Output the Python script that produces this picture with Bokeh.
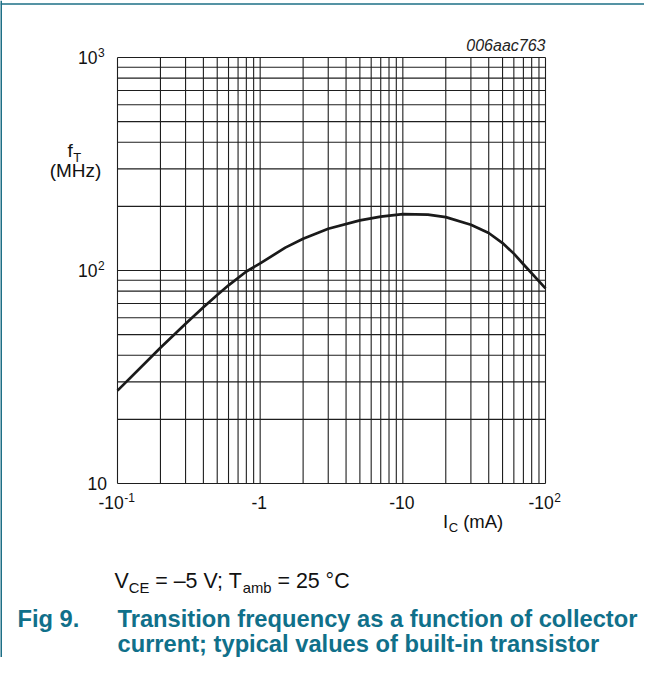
from bokeh.plotting import figure
from bokeh.models import Label, Range1d, Span
from bokeh.embed import file_html
from bokeh.resources import INLINE

# ---- data ----
ic_ma = [0.1, 0.2, 0.3, 0.4, 0.5, 0.6, 0.8, 1, 1.5, 2, 3, 5, 7, 10, 15, 20, 30, 40, 50, 60, 70, 100]
ft_mhz = [27.3, 43.4, 56.2, 67.2, 76.8, 85.2, 98.9, 108, 128, 141, 157, 172, 179, 184, 183, 178,
          164, 150, 134.5, 120, 107, 82.5]

x_major = [0.1, 1, 10, 100]
x_minor = [m * d for d in (0.1, 1, 10) for m in range(2, 10)]
y_major = [10, 100, 1000]
y_minor = [m * d for d in (10, 100) for m in range(2, 10)]

x_tick_base = ["-10", "-1", "-10", "-10"]
x_tick_sup = ["-1", "", "", "2"]
y_tick_base = ["10", "10", "10"]
y_tick_sup = ["", "2", "3"]

TEAL = "#10708a"
FRAME_TEAL = "#1d6f86"
FONT = "Liberation Sans"
NB = "\u00a0"

# Arial / Liberation Sans advance widths (1/1000 em)
WID = {" ": 278, NB: 278, "-": 333, "(": 333, ")": 333, "M": 833, "H": 722, "z": 500, "m": 833,
       "A": 667, "I": 278, "C": 722, "E": 667, "V": 667, "=": 584, "\u2013": 556, ";": 278,
       "T": 611, "a": 556, "b": 556, "\u00b0": 400, "f": 278}


def tw(s, size):
    return sum(WID.get(ch, 556) for ch in s) / 1000.0 * size


# canvas geometry
CW, CH = 644, 657
PL, PT, PW, PH = 117, 57, 428, 426   # chart box inside the canvas
dec_x = PW / 3.0
dec_y = PH / 2.0
x_rng = Range1d(10 ** (-1 - PL / dec_x), 10 ** (2 + (CW - PL - PW) / dec_x))
y_rng = Range1d(10 ** (1 - (CH - PT - PH) / dec_y), 10 ** (3 + PT / dec_y))

p = figure(width=CW, height=CH, x_axis_type="log", y_axis_type="log",
           x_range=x_rng, y_range=y_rng,
           x_axis_location=None, y_axis_location=None,
           output_backend="svg", toolbar_location=None,
           min_border=0, min_border_left=0, min_border_right=0,
           min_border_top=0, min_border_bottom=0)
p.grid.visible = False
p.background_fill_color = "white"
p.border_fill_color = "white"
p.outline_line_color = None

# page frame lines (teal)
p.add_layout(Span(location=x_rng.start, dimension="height", line_color=FRAME_TEAL, line_width=3))
p.add_layout(Span(location=10 ** (3 + (PT - 3.5) / dec_y), dimension="width",
                  line_color=FRAME_TEAL, line_width=1.5))

GRID = "#1e1e1e"
xs = x_major + x_minor
ys = y_major + y_minor
p.segment(x0=xs, y0=[y_major[0]] * len(xs), x1=xs, y1=[y_major[-1]] * len(xs),
          line_color=GRID, line_width=1.1)
p.segment(x0=[x_major[0]] * len(ys), y0=ys, x1=[x_major[-1]] * len(ys), y1=ys,
          line_color=GRID, line_width=1.1)

p.line(ic_ma, ft_mhz, line_color="#1a1a1a", line_width=2.7, line_join="round")

FX0, FY0 = PL, PT + PH  # chart bottom-left on the canvas
BASE_K = 0.37  # Bokeh places the alphabetic baseline ~0.37 em below the anchor


def put(xd, yd, dx, dy, text, size, align="left", color="#111111", style="normal"):
    dy = dy - BASE_K * size
    p.add_layout(Label(x=xd, y=yd, x_offset=dx, y_offset=-dy, text=text,
                       text_font=FONT, text_font_size=f"{size}px", text_font_style=style,
                       text_color=color, text_align=align, text_baseline="alphabetic"))


def put_page(sx, sy, text, size, align="left", color="#111111", style="normal"):
    put(x_major[0], y_major[0], sx - FX0, sy - FY0, text, size, align, color, style)


TS, SS = 17.5, 12
# x tick labels
for t, b, s in zip(x_major, x_tick_base, x_tick_sup):
    wb, ws = tw(b, TS), tw(s, SS)
    start = -(wb + ws) / 2 - 1
    put(t, y_major[0], start, 25, b, TS)
    if s:
        put(t, y_major[0], start + wb + 0.5, 18, s, SS)

# y tick labels
for t, b, s in zip(y_major, y_tick_base, y_tick_sup):
    if s:
        put(x_major[0], t, -20, 6.3, b, TS, align="right")
        put(x_major[0], t, -19.5, -0.7, s, SS)
    else:
        put(x_major[0], t, -10.5, 6.3, b, TS, align="right")

# axis titles
AS, AB = 19, 13
put_page(67, 157, "f", AS)
put_page(67 + tw("f", AS) + 0.5, 161.5, "T", AB)
put_page(75, 177.5, "(MHz)", AS, align="center")

ix = 442.5
put_page(ix, 528, "I", 18.5)
ix += tw("I", 18.5) + 0.5
put_page(ix, 531.5, "C", AB)
ix += tw("C", AB)
put_page(ix, 528, NB + "(mA)", 18.5)

put_page(545, 51, "006aac763", 16, align="right", color="#222222", style="italic")

# condition line with subscripts
CS, CB = 21.4, 14.8
pieces = [("V", CS, 0), ("CE", CB, 4.5), (NB + "=" + NB + "\u20135" + NB + "V;" + NB + "T", CS, 0),
          ("amb", CB, 4.5), (NB + "=" + NB + "25" + NB + "\u00b0C", CS, 0)]
cx = 114
for txt, sz, dd in pieces:
    put_page(cx, 588.5 + dd, txt, sz)
    cx += tw(txt, sz)

# figure caption
TFS = 23.7
put_page(17, 627, "Fig 9.", TFS, color=TEAL, style="bold")
put_page(117, 627, "Transition frequency as a function of collector", TFS, color=TEAL, style="bold")
put_page(117, 652, "current; typical values of built-in transistor", TFS, color=TEAL, style="bold")

open("out.html", "w").write(file_html(p, INLINE))
